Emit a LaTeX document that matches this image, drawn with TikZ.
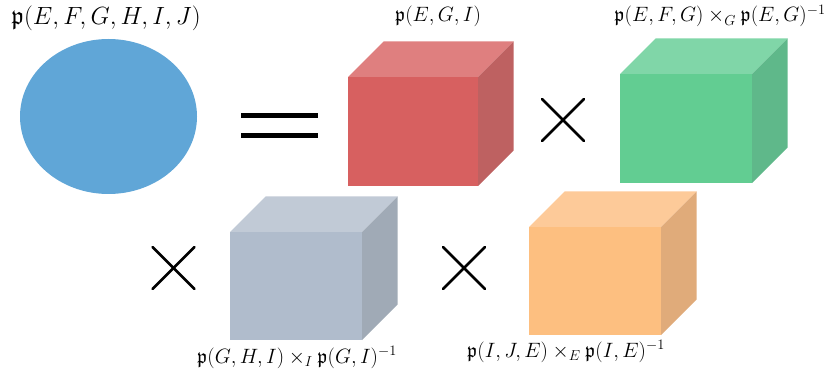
\documentclass[tikz,border=0pt]{standalone}
\usepackage{amssymb}
\usetikzlibrary{shapes.geometric}
\definecolor{ellblue}{RGB}{96,166,215}
\definecolor{redF}{RGB}{215,96,96}
\definecolor{redT}{RGB}{223,127,127}
\definecolor{redS}{RGB}{190,97,97}
\definecolor{grnF}{RGB}{98,205,146}
\definecolor{grnT}{RGB}{128,214,168}
\definecolor{grnS}{RGB}{95,184,138}
\definecolor{gryF}{RGB}{176,188,204}
\definecolor{gryT}{RGB}{193,202,214}
\definecolor{gryS}{RGB}{160,170,182}
\definecolor{orgF}{RGB}{253,191,128}
\definecolor{orgT}{RGB}{253,202,153}
\definecolor{orgS}{RGB}{224,171,122}
\newcommand\mycube[8]{%
  \fill[#7] (#2,#3) -- (#2+35.5,#3-35.5) -- (#4+35.5,#3-35.5) -- (#4,#3) -- cycle;
  \fill[#8] (#4,#3) -- (#4+35.5,#3-35.5) -- (#4+35.5,#5-35.5) -- (#4,#5) -- cycle;
  \fill[#6] (#2,#3) rectangle (#4,#5);
  \coordinate (#1) at ({(#2+#4)/2},{(#3+#5)/2});
}
\begin{document}
\begin{tikzpicture}[x=1pt,y=-1pt,
  lab/.style={inner sep=0pt, anchor=base, font=\fontsize{20.5}{24}\selectfont},
  biglab/.style={inner sep=0pt, anchor=base, font=\fontsize{25.5}{30}\selectfont},
  timesline/.style={line width=2.8pt, line cap=round},
  eqline/.style={line width=5pt}]
\useasboundingbox (0,0) rectangle (830,374);
% joint distribution
\node[ellipse, fill=ellblue, inner sep=0pt, minimum width=177pt, minimum height=155pt] (joint) at (108.5,116.5) {};
\node[biglab] (jointlab) at (106,25) {$\mathfrak{p}(E,F,G,H,I,J)$};
% equals
\coordinate (eqA) at (241,115.5); \coordinate (eqB) at (318,115.5);
\coordinate (eqC) at (241,136); \coordinate (eqD) at (318,136);
\draw[eqline] (eqA) -- (eqB);
\draw[eqline] (eqC) -- (eqD);
% cubes
\mycube{red}{348}{77}{478}{186}{redF}{redT}{redS}
\mycube{green}{620}{74}{752}{183}{grnF}{grnT}{grnS}
\mycube{gray}{230}{232}{362}{340}{gryF}{gryT}{gryS}
\mycube{orange}{529}{227}{661}{335}{orgF}{orgT}{orgS}
% labels
\node[lab] (redlab) at (438,22) {$\mathfrak{p}(E,G,I)$};
\node[lab] (grnlab) at (720,22) {$\mathfrak{p}(E,F,G)\times_G\mathfrak{p}(E,G)^{-1}$};
\node[lab] (grylab) at (297,363) {$\mathfrak{p}(G,H,I)\times_I\mathfrak{p}(G,I)^{-1}$};
\node[lab] (orglab) at (566,357) {$\mathfrak{p}(I,J,E)\times_E\mathfrak{p}(I,E)^{-1}$};
% times signs
\foreach \cx/\cy/\n in {563/120/a, 173.5/268/b, 464/268/c}{
  \coordinate (t\n1) at (\cx-21,\cy-21);
  \coordinate (t\n2) at (\cx+21,\cy+21);
  \coordinate (t\n3) at (\cx-21,\cy+21);
  \coordinate (t\n4) at (\cx+21,\cy-21);
  \draw[timesline] (t\n1) -- (t\n2);
  \draw[timesline] (t\n3) -- (t\n4);
}
\end{tikzpicture}
\end{document}
